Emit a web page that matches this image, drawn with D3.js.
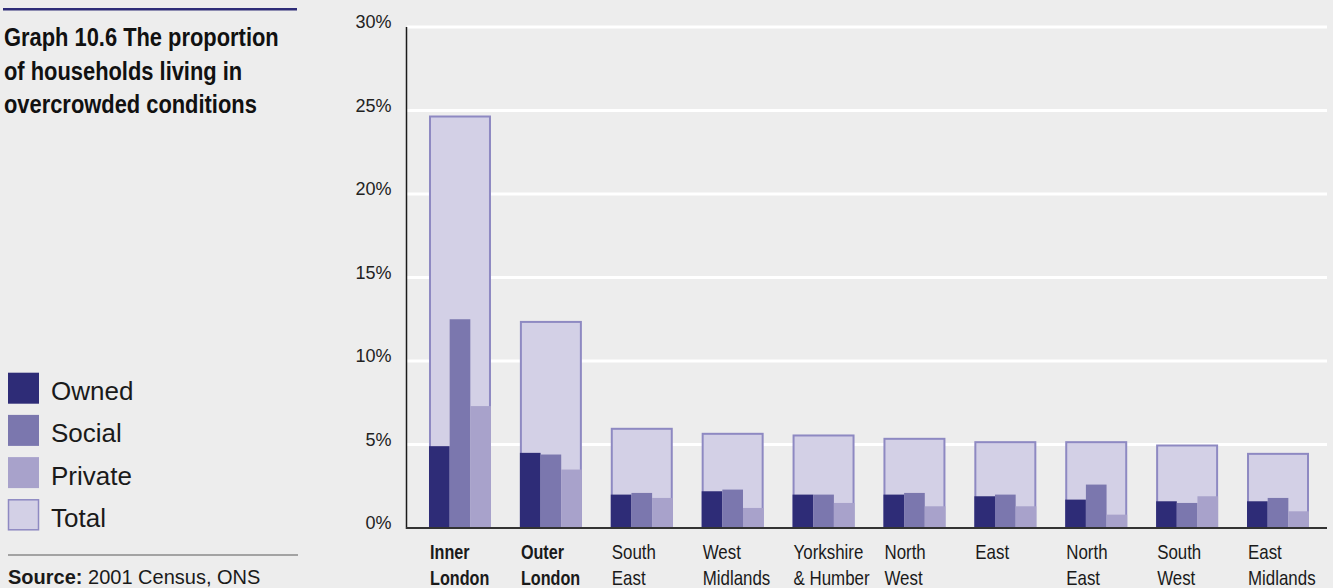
<!DOCTYPE html>
<html>
<head>
<meta charset="utf-8">
<script src="https://cdn.jsdelivr.net/npm/d3@7"></script>
<style>
  html, body { margin: 0; padding: 0; background: #ededed; }
  svg { display: block; }
  .sans { font-family: "Liberation Sans", Arial, Helvetica, sans-serif; }
</style>
</head>
<body>
<script>
// Regions (two label lines each) and overcrowding rates by tenure, in percent
const regions = [
  ["Inner", "London"], ["Outer", "London"], ["South", "East"], ["West", "Midlands"],
  ["Yorkshire", "& Humber"], ["North", "West"], ["East", ""], ["North", "East"],
  ["South", "West"], ["East", "Midlands"]
];
const boldRegions = [true, true, false, false, false, false, false, false, false, false];
const owned   = [4.9, 4.5, 2.0, 2.2, 2.0, 2.0, 1.9, 1.7, 1.6, 1.6];
const social  = [12.5, 4.4, 2.1, 2.3, 2.0, 2.1, 2.0, 2.6, 1.5, 1.8];
const privateRented = [7.3, 3.5, 1.8, 1.2, 1.5, 1.3, 1.3, 0.8, 1.9, 1.0];
const total   = [24.7, 12.4, 6.0, 5.7, 5.6, 5.4, 5.2, 5.2, 5.0, 4.5];
const yTicks  = [0, 5, 10, 15, 20, 25, 30];
const seriesNames = ["Owned", "Social", "Private", "Total"];

const colors = {
  Owned: "#2e2c77",
  Social: "#7b77ae",
  Private: "#a8a2cb",
  totalFill: "#d3d0e6",
  totalStroke: "#8e89c2"
};

const W = 1333, H = 588;
const svg = d3.select("body").append("svg").attr("width", W).attr("height", H);
svg.append("rect").attr("width", W).attr("height", H).attr("fill", "#ededed");

const names = regions.map(r => r.join(" ").trim());
const x = d3.scaleBand().domain(names).range([409, 1329]).paddingInner(0.318).paddingOuter(0.22);
const y = d3.scaleLinear().domain([0, 30]).range([528, 27]);
const sub = d3.scaleBand().domain(["Owned", "Social", "Private"]).range([0, x.bandwidth()]);

// Condensed lettering: regular sans squeezed horizontally
function condensed(sel, px, py, sx) {
  sel.attr("transform", `translate(${px},${py}) scale(${sx},1)`);
}

// Gridlines
const axisRight = 1327;
svg.append("g").selectAll("line").data(yTicks.filter(t => t > 0)).join("line")
  .attr("x1", 407).attr("x2", axisRight)
  .attr("y1", d => y(d)).attr("y2", d => y(d))
  .attr("stroke", "#ffffff").attr("stroke-width", 3);

// Y axis tick labels
const yAxis = d3.axisLeft(y).tickValues(yTicks).tickFormat(d => d + "%").tickSize(0).tickPadding(15);
const gy = svg.append("g").attr("transform", "translate(406.5,0)").call(yAxis);
gy.select(".domain").remove();
gy.selectAll("text")
  .attr("class", "sans")
  .attr("font-size", 18).attr("fill", "#222")
  .attr("dy", "0.05em");

// Total bars (background boxes)
const groups = svg.append("g").selectAll("g").data(names).join("g")
  .attr("transform", d => `translate(${x(d)},0)`);

groups.append("rect")
  .attr("x", 1).attr("width", x.bandwidth() - 2)
  .attr("y", (d, i) => y(total[i]) + 1)
  .attr("height", (d, i) => y(0) - y(total[i]) - 1)
  .attr("fill", colors.totalFill)
  .attr("stroke", colors.totalStroke).attr("stroke-width", 2);

// Tenure bars
const tenureData = { Owned: owned, Social: social, Private: privateRented };
["Owned", "Social", "Private"].forEach(k => {
  groups.append("rect")
    .attr("x", sub(k)).attr("width", sub.bandwidth())
    .attr("y", (d, i) => y(tenureData[k][i]))
    .attr("height", (d, i) => y(0) - y(tenureData[k][i]))
    .attr("fill", colors[k]);
});

// Axis lines
svg.append("line").attr("x1", 406.5).attr("x2", 406.5).attr("y1", y(30)).attr("y2", y(0) + 1)
  .attr("stroke", "#1a1a1a").attr("stroke-width", 1.5);
svg.append("line").attr("x1", 406).attr("x2", axisRight).attr("y1", y(0)).attr("y2", y(0))
  .attr("stroke", "#333333").attr("stroke-width", 2);

// Category labels, two lines each
const labelRows = [];
regions.forEach((r, i) => r.forEach((t, j) => { if (t) labelRows.push({ t, i, j }); }));
svg.append("g").selectAll("text").data(labelRows).join("text")
  .attr("class", "sans")
  .attr("font-size", 20)
  .attr("font-weight", d => boldRegions[d.i] ? "bold" : "normal")
  .attr("fill", "#1a1a1a")
  .each(function (d) {
    condensed(d3.select(this), x(names[d.i]) + 1, d.j === 0 ? 559 : 584.5, boldRegions[d.i] ? 0.81 : 0.845);
  })
  .text(d => d.t);

// Title block
svg.append("line").attr("x1", 3).attr("x2", 297).attr("y1", 9.3).attr("y2", 9.3)
  .attr("stroke", "#2e2c77").attr("stroke-width", 2.5);
const titleLines = ["Graph 10.6 The proportion", "of households living in", "overcrowded conditions"];
svg.append("g").selectAll("text").data(titleLines).join("text")
  .attr("class", "sans")
  .attr("font-size", 26).attr("font-weight", "bold").attr("fill", "#111")
  .each(function (d, i) { condensed(d3.select(this), 4, 46 + i * 33.7, 0.842); })
  .text(d => d);

// Legend
const legend = svg.append("g").selectAll("g").data(seriesNames).join("g")
  .attr("transform", (d, i) => `translate(8,${372.7 + i * 42.2})`);
legend.append("rect")
  .attr("x", d => d === "Total" ? 0.5 : 0).attr("y", d => d === "Total" ? 0.5 : 0)
  .attr("width", d => d === "Total" ? 30 : 31).attr("height", d => d === "Total" ? 30 : 31)
  .attr("fill", d => d === "Total" ? colors.totalFill : colors[d])
  .attr("stroke", d => d === "Total" ? colors.totalStroke : "none")
  .attr("stroke-width", 1.5);
legend.append("text")
  .attr("class", "sans")
  .attr("x", 43).attr("y", 27.5)
  .attr("font-size", 26).attr("fill", "#1a1a1a")
  .text(d => d);

// Source note
svg.append("line").attr("x1", 8).attr("x2", 298).attr("y1", 555).attr("y2", 555)
  .attr("stroke", "#8a8a8a").attr("stroke-width", 1.5);
const src = svg.append("text").attr("class", "sans")
  .attr("x", 8).attr("y", 584).attr("font-size", 20).attr("fill", "#1a1a1a");
src.append("tspan").attr("font-weight", "bold").text("Source:");
src.append("tspan").text(" 2001 Census, ONS");
</script>
</body>
</html>
